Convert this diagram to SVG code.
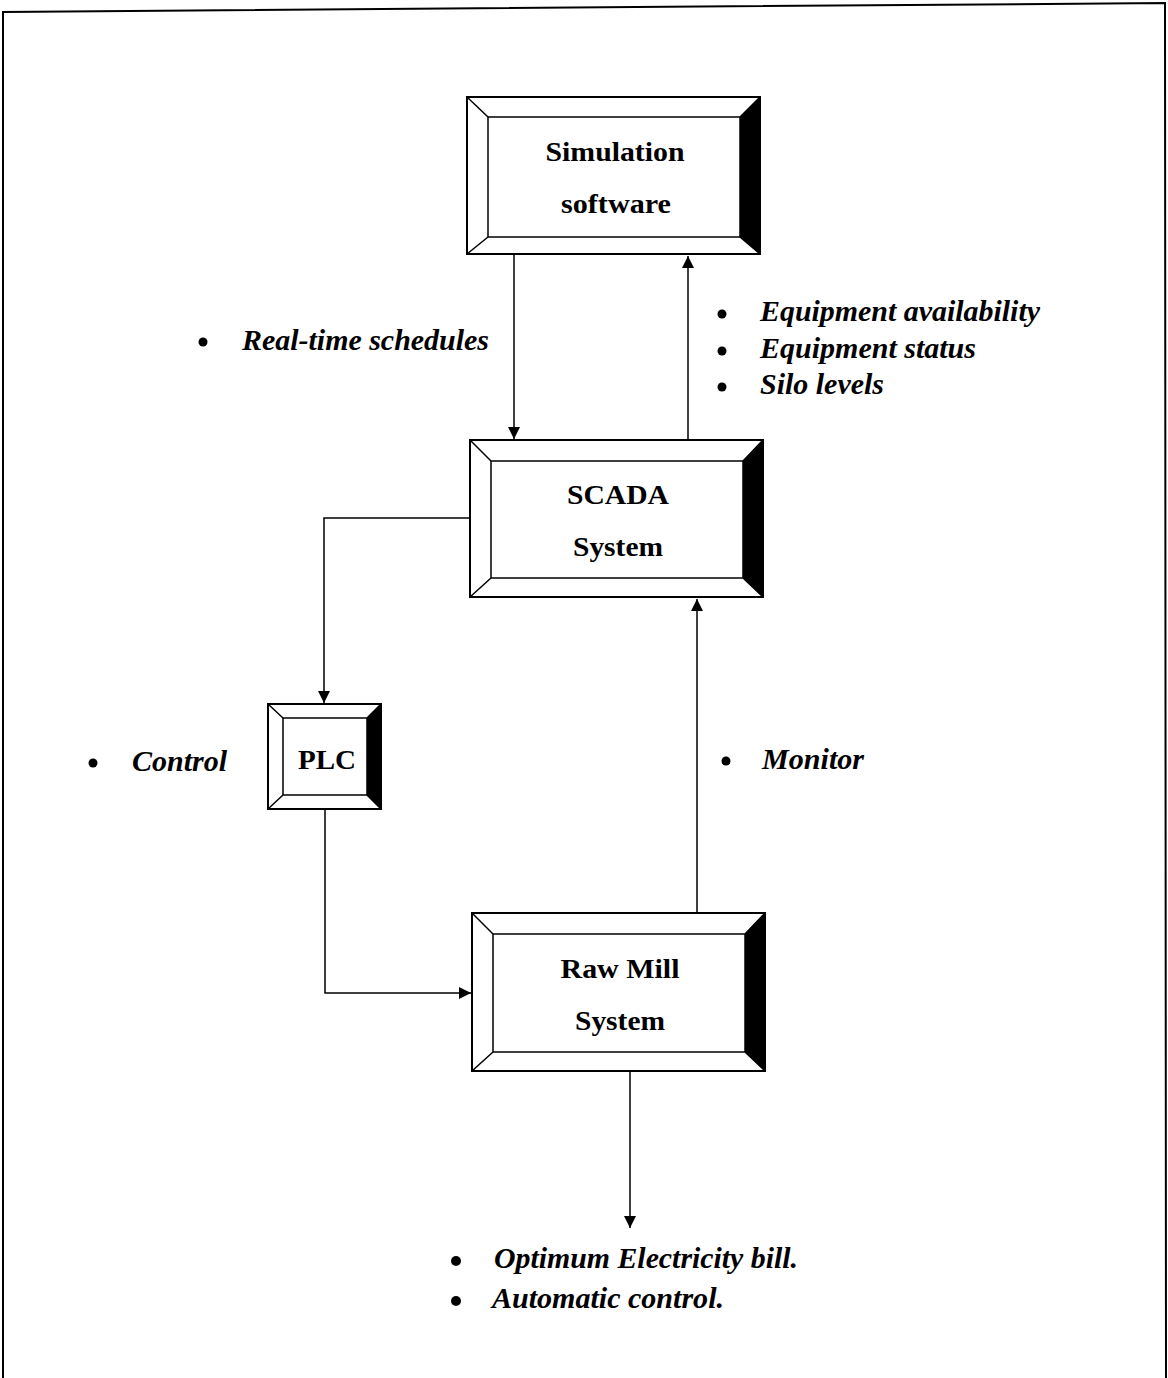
<svg xmlns="http://www.w3.org/2000/svg" width="1168" height="1378" viewBox="0 0 1168 1378">
<style>
.frame{fill:none;stroke:#000;stroke-width:2}
.bx{fill:#fff;stroke:#000;stroke-width:2}
.bv{fill:none;stroke:#000;stroke-width:1.5}
.dark{fill:#000}
.lbl{font-family:"Liberation Serif",serif;font-weight:bold;font-size:28px;text-anchor:middle;fill:#000}
.it{font-family:"Liberation Serif",serif;font-weight:bold;font-style:italic;font-size:29px;fill:#000}
.ln{fill:none;stroke:#000;stroke-width:1.5}
</style>
<defs>
<marker id="ah" viewBox="0 0 10 10" refX="10" refY="5" markerWidth="12" markerHeight="12" markerUnits="userSpaceOnUse" orient="auto">
<path d="M0,0 L10,5 L0,10 Z" fill="#000"/>
</marker>
</defs>
<rect width="1168" height="1378" fill="#fff"/>
<path class="frame" d="M3,1378 L3,12 L1165,3 L1166,1378"/>

<g id="sim">
<rect class="bx" x="467" y="97" width="293" height="157"/>
<polygon class="dark" points="740,117 760,97 760,254 740,237"/>
<rect class="bv" x="488" y="117" width="252" height="120"/>
<path class="bv" d="M467,97 L488,117 M760,97 L740,117 M467,254 L488,237 M760,254 L740,237"/>
<text class="lbl" x="615" y="161" textLength="139" lengthAdjust="spacingAndGlyphs">Simulation</text>
<text class="lbl" x="616" y="213" textLength="110" lengthAdjust="spacingAndGlyphs">software</text>
</g>

<g id="scada">
<rect class="bx" x="470" y="440" width="293" height="157"/>
<polygon class="dark" points="743,461 763,440 763,597 743,578"/>
<rect class="bv" x="491" y="461" width="252" height="117"/>
<path class="bv" d="M470,440 L491,461 M763,440 L743,461 M470,597 L491,578 M763,597 L743,578"/>
<text class="lbl" x="618" y="504" textLength="102" lengthAdjust="spacingAndGlyphs">SCADA</text>
<text class="lbl" x="618" y="556" textLength="90" lengthAdjust="spacingAndGlyphs">System</text>
</g>

<g id="plc">
<rect class="bx" x="268" y="704" width="113" height="105"/>
<polygon class="dark" points="367,718 381,704 381,809 367,795"/>
<rect class="bv" x="283" y="718" width="84" height="77"/>
<path class="bv" d="M268,704 L283,718 M381,704 L367,718 M268,809 L283,795 M381,809 L367,795"/>
<text class="lbl" x="327" y="769" textLength="58" lengthAdjust="spacingAndGlyphs">PLC</text>
</g>

<g id="rawmill">
<rect class="bx" x="472" y="913" width="293" height="158"/>
<polygon class="dark" points="745,934 765,913 765,1071 745,1052"/>
<rect class="bv" x="493" y="934" width="252" height="118"/>
<path class="bv" d="M472,913 L493,934 M765,913 L745,934 M472,1071 L493,1052 M765,1071 L745,1052"/>
<text class="lbl" x="620" y="978" textLength="119" lengthAdjust="spacingAndGlyphs">Raw Mill</text>
<text class="lbl" x="620" y="1030" textLength="90" lengthAdjust="spacingAndGlyphs">System</text>
</g>

<g id="connectors">
<path class="ln" d="M514,255 L514,439" marker-end="url(#ah)"/>
<path class="ln" d="M688,440 L688,256" marker-end="url(#ah)"/>
<path class="ln" d="M470,518 L324,518 L324,703" marker-end="url(#ah)"/>
<path class="ln" d="M325,809 L325,993 L471,993" marker-end="url(#ah)"/>
<path class="ln" d="M697,913 L697,599" marker-end="url(#ah)"/>
<path class="ln" d="M630,1072 L630,1228" marker-end="url(#ah)"/>
</g>

<g id="labels">
<circle cx="203" cy="342" r="4.5"/>
<text class="it" x="242" y="350" textLength="247" lengthAdjust="spacingAndGlyphs">Real-time schedules</text>
<circle cx="722" cy="314" r="4.5"/>
<text class="it" x="760" y="321" textLength="280" lengthAdjust="spacingAndGlyphs">Equipment availability</text>
<circle cx="722" cy="351" r="4.5"/>
<text class="it" x="760" y="358" textLength="216" lengthAdjust="spacingAndGlyphs">Equipment status</text>
<circle cx="722" cy="387" r="4.5"/>
<text class="it" x="760" y="394" textLength="124" lengthAdjust="spacingAndGlyphs">Silo levels</text>
<circle cx="93" cy="763" r="4.5"/>
<text class="it" x="132" y="771" textLength="95" lengthAdjust="spacingAndGlyphs">Control</text>
<circle cx="726" cy="761" r="4.5"/>
<text class="it" x="762" y="769" textLength="102" lengthAdjust="spacingAndGlyphs">Monitor</text>
<circle cx="456" cy="1261" r="5"/>
<text class="it" x="494" y="1268" textLength="304" lengthAdjust="spacingAndGlyphs">Optimum Electricity bill.</text>
<circle cx="456" cy="1301" r="5"/>
<text class="it" x="492" y="1308" textLength="232" lengthAdjust="spacingAndGlyphs">Automatic control.</text>
</g>
</svg>
